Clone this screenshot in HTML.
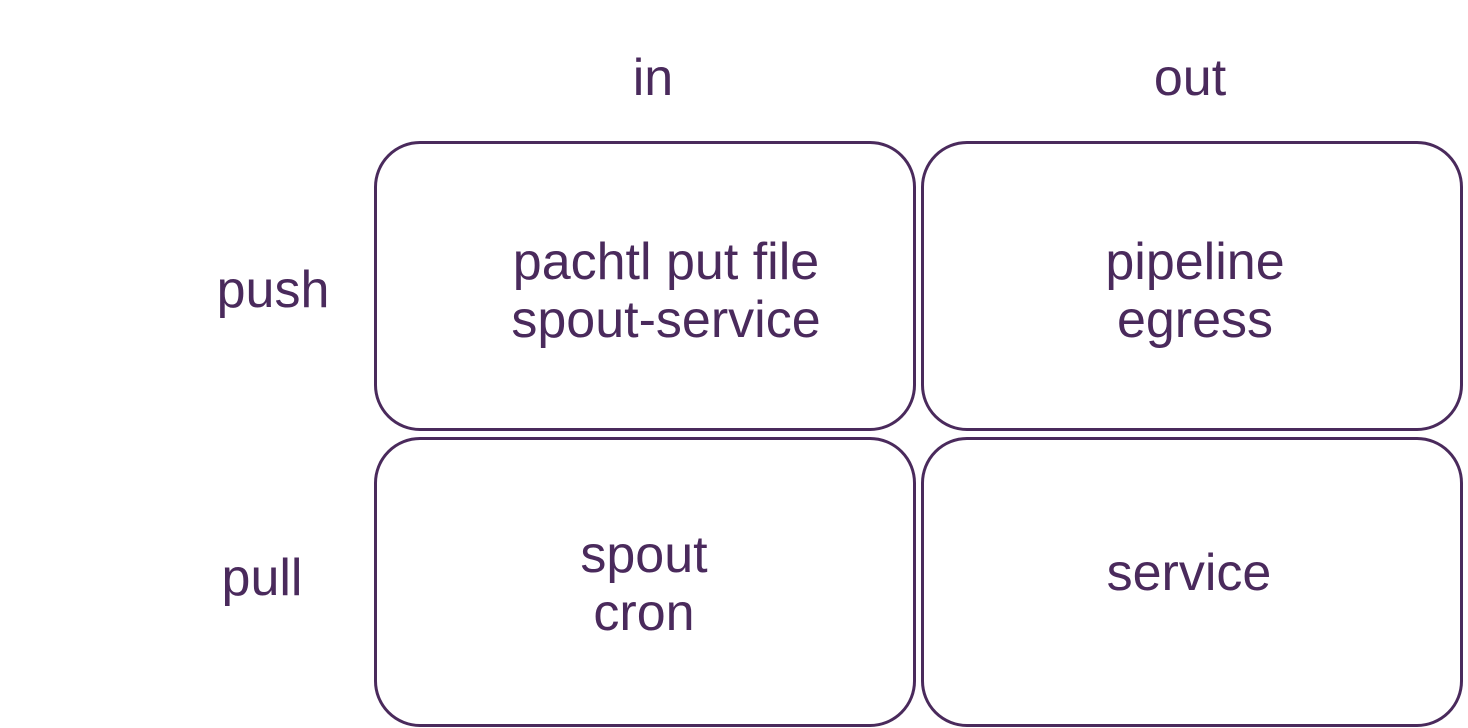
<!DOCTYPE html>
<html><head><meta charset="utf-8"><style>
body{margin:0;width:1468px;height:728px;background:#fff;position:relative;overflow:hidden;font-family:"Liberation Sans","DejaVu Sans",sans-serif;color:#4a2a5c}
.b{position:absolute;border:3px solid #4a2a5c;border-radius:46px;box-sizing:border-box}
.t{position:absolute;font-size:52px;line-height:58px;text-align:center;white-space:nowrap;transform:translate(-50%,-50%)}
</style></head><body>
<div class="b" style="left:374px;top:141px;width:542px;height:290px"></div>
<div class="b" style="left:921px;top:141px;width:542px;height:290px"></div>
<div class="b" style="left:374px;top:437px;width:542px;height:290px"></div>
<div class="b" style="left:921px;top:437px;width:542px;height:290px"></div>
<div class="t" style="left:653px;top:78px">in</div>
<div class="t" style="left:1190px;top:78px">out</div>
<div class="t" style="left:273px;top:290px">push</div>
<div class="t" style="left:262px;top:578px">pull</div>
<div class="t" style="left:666px;top:291px">pachtl put file<br>spout-service</div>
<div class="t" style="left:1195px;top:291px">pipeline<br>egress</div>
<div class="t" style="left:644px;top:584px">spout<br>cron</div>
<div class="t" style="left:1189px;top:573px">service</div>
</body></html>
